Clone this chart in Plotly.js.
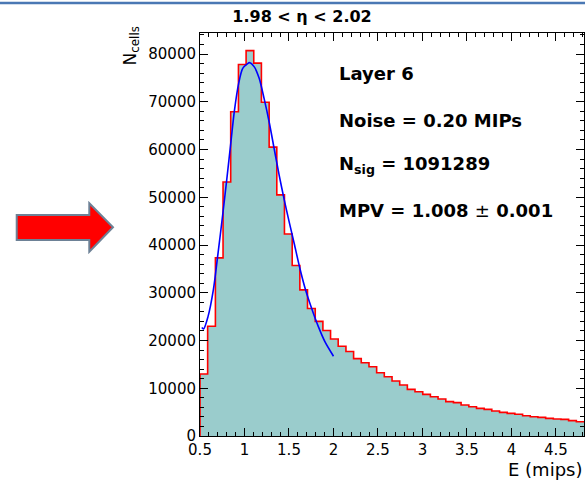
<!DOCTYPE html>
<html>
<head>
<meta charset="utf-8">
<script src="https://cdn.plot.ly/plotly-3.0.1.min.js"></script>
<style>html,body{margin:0;padding:0;background:#fff;}#chart{width:585px;height:480px;}</style>
</head>
<body>
<div id="chart"></div>
<script>
// ---- data ----
const binEdges = [0.500,0.586,0.673,0.759,0.845,0.932,1.018,1.104,1.190,1.277,
  1.363,1.449,1.536,1.622,1.708,1.795,1.881,1.967,2.053,2.140,
  2.226,2.312,2.399,2.485,2.571,2.658,2.744,2.830,2.916,3.003,
  3.089,3.175,3.262,3.348,3.434,3.521,3.607,3.693,3.779,3.866,
  3.952,4.038,4.125,4.211,4.297,4.384,4.470,4.556,4.642,4.729,4.815];
const binCounts = [13000,23000,37300,53200,67900,77800,80700,78100,69900,60500,
  50500,42300,35700,30600,26700,24000,22100,20300,18800,17700,
  16200,15350,14500,13250,12420,11520,10680,9770,9280,8720,
  8230,7750,7190,6980,6490,6140,5790,5580,5230,4950,
  4740,4540,4250,4040,3900,3700,3560,3490,3210,3000];
const fitX = [0.52,0.54,0.59,0.65,0.70,0.755,0.80,0.85,0.885,0.935,0.98,1.035,1.055,1.11,1.165,1.22,1.28,1.335,1.39,1.445,1.50,1.56,1.62,1.68,1.755,1.83,1.905,2.0];
const fitY = [22700,22400,25000,30600,37900,46300,53600,62000,67900,73900,77000,78000,78200,77300,74900,70700,65500,60000,54600,49600,45000,40200,35300,31000,26700,22900,19700,16700];
const titleText = "1.98 < η < 2.02";
const infoLines = ["Layer 6", "Noise = 0.20 MIPs", "N<sub>sig</sub> = 1091289", "MPV = 1.008 <span style='font-weight:normal'>±</span> 0.001"];
const xTitle = "E (mips)";
const yTitle = "N<sub>cells</sub>";

// ---- histogram outline path (step) ----
const hx = [binEdges[0]];
const hy = [0];
for (let i = 0; i < binCounts.length; i++) { hx.push(binEdges[i]); hy.push(binCounts[i]); }
hx.push(binEdges[binEdges.length - 1]); hy.push(binCounts[binCounts.length - 1]);

// ---- geometry helpers (pixel -> paper) ----
const L = 200, R = 584, T = 33, B = 436;
const PX = p => (p - L) / (R - L);
const PY = p => (B - p) / (B - T);

const FONT = "DejaVu Sans";
const traces = [
  {x: hx, y: hy, type: 'scatter', mode: 'lines', line: {shape: 'hv', color: '#ff0000', width: 1.6},
   fill: 'tozeroy', fillcolor: '#9acccc', hoverinfo: 'skip', showlegend: false},
  {x: fitX, y: fitY, type: 'scatter', mode: 'lines', line: {shape: 'spline', smoothing: 0.8, color: '#0000ff', width: 1.6},
   hoverinfo: 'skip', showlegend: false}
];

const infoY = [73, 120, 165, 210];
const annotations = infoLines.map((t, i) => ({
  text: '<b>' + t + '</b>', xref: 'paper', yref: 'paper', x: PX(337), y: PY(infoY[i]),
  xanchor: 'left', yanchor: 'middle', showarrow: false, font: {family: FONT, size: 18, color: '#000'}
}));
annotations.push({text: xTitle, xref: 'paper', yref: 'paper', x: PX(584), y: PY(469), xanchor: 'right', yanchor: 'middle',
  showarrow: false, font: {family: FONT, size: 18, color: '#000'}});
annotations.push({text: yTitle, xref: 'paper', yref: 'paper', x: PX(131), y: PY(25), xanchor: 'center', yanchor: 'top',
  textangle: -90, showarrow: false, font: {family: FONT, size: 17, color: '#000'}});

const arrow = [[16.7,215],[89.3,215],[89.3,203.3],[113,227.3],[89.3,251.7],[89.3,240],[16.7,240]];
const arrowPath = 'M ' + arrow.map(p => PX(p[0]).toFixed(4) + ',' + PY(p[1]).toFixed(4)).join(' L ') + ' Z';

const layout = {
  width: 585, height: 480,
  margin: {l: L, r: 585 - R, t: T, b: 480 - B, pad: 0},
  paper_bgcolor: '#ffffff', plot_bgcolor: '#ffffff',
  title: {text: '<b>' + titleText + '</b>', font: {family: FONT, size: 16, color: '#000'},
    xref: 'container', yref: 'container', x: 302 / 585, xanchor: 'center', y: 1 - 16 / 480, yanchor: 'middle'},
  xaxis: {range: [0.5, 4.815], tick0: 0.5, dtick: 0.5, ticks: 'inside', ticklen: 8, tickwidth: 1, tickcolor: '#000',
    showline: true, linecolor: '#000', linewidth: 1, mirror: 'allticks', showgrid: false, zeroline: false,
    minor: {tick0: 0.5, dtick: 0.1, ticks: 'inside', ticklen: 4, tickcolor: '#000', showgrid: false},
    tickfont: {family: FONT, size: 15, color: '#000'}},
  yaxis: {range: [0, 84400], tick0: 0, dtick: 10000, tickformat: 'd', ticks: 'inside', ticklen: 8, tickwidth: 1, tickcolor: '#000',
    showline: true, linecolor: '#000', linewidth: 1, mirror: 'allticks', showgrid: false, zeroline: false,
    minor: {tick0: 0, dtick: 2000, ticks: 'inside', ticklen: 4, tickcolor: '#000', showgrid: false},
    tickfont: {family: FONT, size: 15, color: '#000'}},
  annotations: annotations,
  shapes: [
    {type: 'line', xref: 'paper', yref: 'paper', x0: PX(0), x1: PX(585), y0: PY(3), y1: PY(3), line: {color: '#4a78b4', width: 2.5}},
    {type: 'path', xref: 'paper', yref: 'paper', path: arrowPath, fillcolor: '#ff0000', line: {color: '#6d8196', width: 2}}
  ]
};

Plotly.newPlot('chart', traces, layout, {staticPlot: true, displayModeBar: false});
</script>
</body>
</html>
